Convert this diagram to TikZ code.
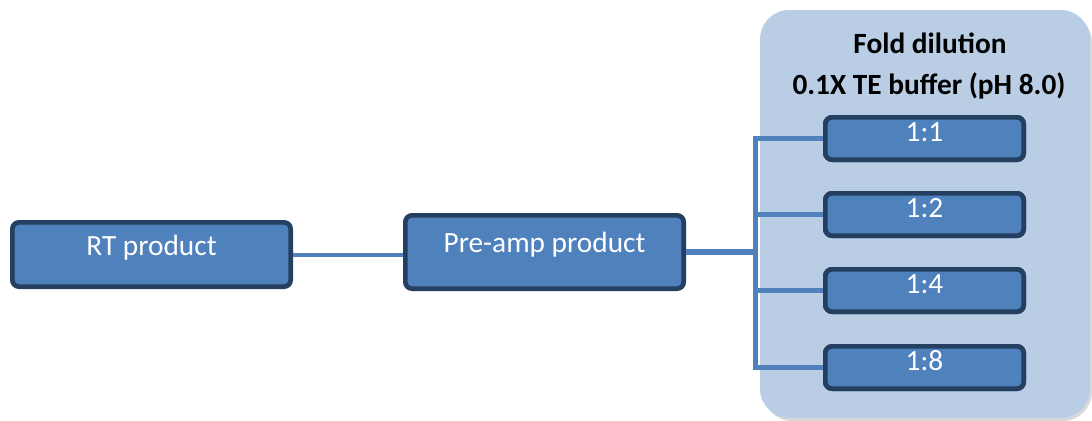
\documentclass[tikz,border=0pt]{standalone}
\usepackage{fontspec}
\setmainfont{Carlito}
\usetikzlibrary{shadows}
\definecolor{boxfill}{HTML}{4F81BD}
\definecolor{boxline}{HTML}{253F60}
\definecolor{panel}{HTML}{B9CDE5}
\definecolor{conn}{HTML}{4F81BD}
\tikzset{
  boxbase/.style={draw=boxline, fill=boxfill, line width=3.5pt, rounded corners=5pt,
    text=white, font=\fontsize{22}{26}\selectfont, inner sep=0pt,
    text height=14pt, text depth=0pt, align=center,
    drop shadow={opacity=0.35, shadow xshift=1.2pt, shadow yshift=-1.2pt}},
  bigbox/.style={boxbase, minimum width=208.75pt},
  smallbox/.style={boxbase, minimum width=148.75pt, minimum height=31.75pt},
  wire/.style={draw=conn, line width=3.5pt},
  thinwire/.style={draw=conn, line width=3pt},
  wireshadow/.style={draw=black, opacity=0.18, line width=3.5pt},
  title/.style={font=\fontsize{22}{26}\selectfont\bfseries, text=black, inner sep=0pt}
}
\begin{document}
\begin{tikzpicture}[x=0.75pt, y=-0.75pt]
\useasboundingbox (0,0) rectangle (1092,421);
% panel
\fill[black, opacity=0.15, rounded corners=22pt] (763,13) rectangle (1092,421);
\fill[panel, rounded corners=22pt] (760,10) rectangle (1090,418);
\node[title] (t1) at (930,43) {Fold dilution};
\node[title] (t2) at (929,86) {0.1X TE buffer (pH 8.0)};
% boxes
\node[bigbox, minimum height=48.25pt] (rt) at (151.5,254.5) {\raisebox{6.5pt}{RT product}};
\node[bigbox, minimum height=55pt] (pre) at (544.5,252) {\raisebox{6.5pt}{Pre-amp product}};
\node[smallbox] (b1) at (924.5,138.5) {\raisebox{4.5pt}{1:1}};
\node[smallbox] (b2) at (924.5,214.5) {\raisebox{4.5pt}{1:2}};
\node[smallbox] (b3) at (924.5,290.5) {\raisebox{4.5pt}{1:4}};
\node[smallbox] (b4) at (924.5,367.5) {\raisebox{4.5pt}{1:8}};
\coordinate (bus) at (755.5,252);
% connector shadows
\begin{scope}[xshift=1.5pt, yshift=-1.5pt]
\draw[wireshadow] (pre.east) -- (bus);
\draw[wireshadow] (b1.west) -| (bus);
\draw[wireshadow] (b4.west) -| (bus);
\end{scope}
% connectors
\draw[thinwire] (rt.east) -- (rt.east -| pre.west);
\draw[wire, line width=4.5pt] (pre.east) -- (bus);
\draw[wire] (b1.west) -| (bus);
\draw[wire] (b2.west) -| (bus);
\draw[wire] (b3.west) -| (bus);
\draw[wire] (b4.west) -| (bus);
% redraw small boxes over the wire ends
\node[smallbox, drop shadow={opacity=0}] at (b1) {\raisebox{4.5pt}{1:1}};
\node[smallbox, drop shadow={opacity=0}] at (b2) {\raisebox{4.5pt}{1:2}};
\node[smallbox, drop shadow={opacity=0}] at (b3) {\raisebox{4.5pt}{1:4}};
\node[smallbox, drop shadow={opacity=0}] at (b4) {\raisebox{4.5pt}{1:8}};
\end{tikzpicture}
\end{document}
